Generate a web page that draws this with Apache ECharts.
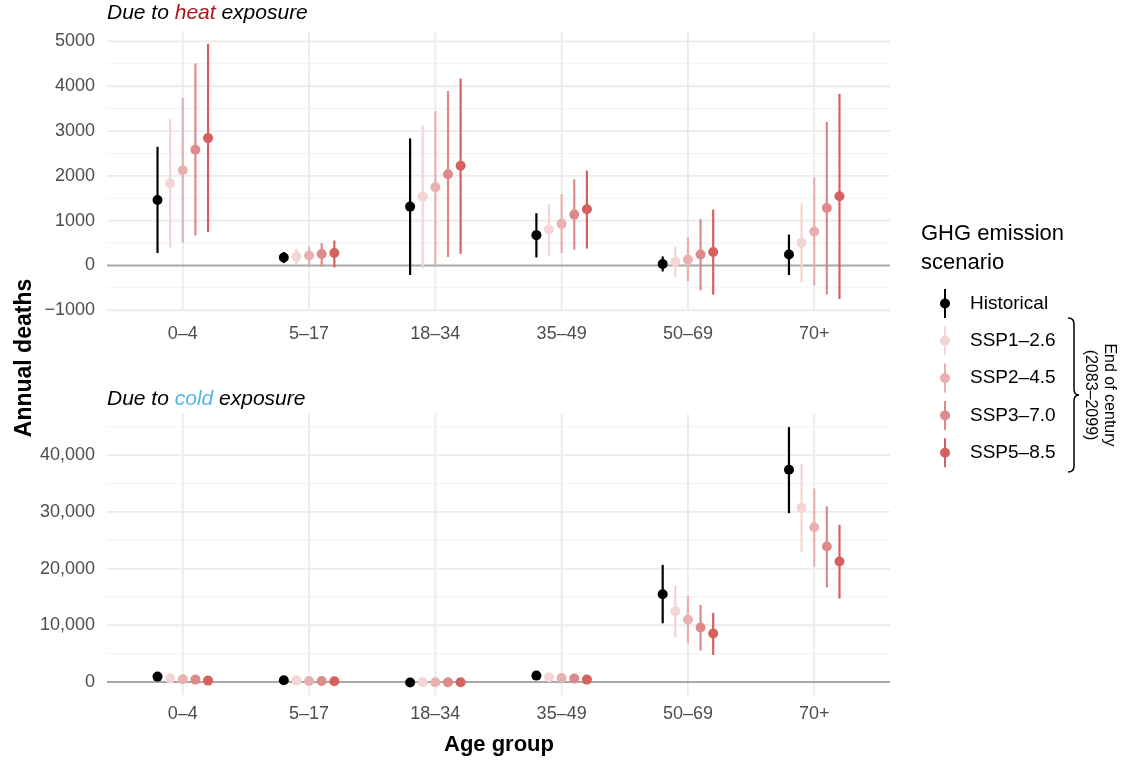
<!DOCTYPE html>
<html>
<head>
<meta charset="utf-8">
<script src="https://cdn.jsdelivr.net/npm/echarts@6/dist/echarts.min.js"></script>
<style>
  html, body { margin: 0; padding: 0; background: #ffffff; }
  #chart { width: 1127px; height: 761px; }
</style>
</head>
<body>
<div id="chart"></div>
<script>
// Age groups on the x axis and emission scenarios (dodged within each group)
const ageGroups = ['0–4', '5–17', '18–34', '35–49', '50–69', '70+'];
const scenarios = ['Historical', 'SSP1–2.6', 'SSP2–4.5', 'SSP3–7.0', 'SSP5–8.5'];
const scenarioColors = ['#000000', '#F3D5D5', '#E9B0B0', '#DF8A8A', '#D6605E'];

// Annual deaths due to heat: [estimate, lower, upper] per age group
const heatHistorical = [[1462, 276, 2648], [178, 53, 298], [1313, -214, 2835], [676, 178, 1166], [31, -134, 200], [245, -214, 690]];
const heatSSP126 = [[1834, 400, 3264], [194, 31, 372], [1535, -67, 3131], [801, 223, 1373], [82, -258, 423], [505, -371, 1388]];
const heatSSP245 = [[2123, 512, 3738], [223, 9, 423], [1745, 0, 3442], [928, 276, 1589], [134, -356, 632], [757, -452, 1958]];
const heatSSP370 = [[2581, 668, 4510], [254, -22, 498], [2034, 187, 3894], [1135, 349, 1923], [245, -556, 1039], [1284, -645, 3204]];
const heatSSP585 = [[2842, 743, 4949], [276, -45, 556], [2225, 260, 4170], [1255, 378, 2114], [298, -652, 1246], [1544, -748, 3827]];

// Annual deaths due to cold: [estimate, lower, upper] per age group
const coldHistorical = [[941, 760, 1130], [294, 200, 390], [-100, -180, -20], [1118, 900, 1340], [15471, 10353, 20647], [37412, 29765, 44941]];
const coldSSP126 = [[647, 480, 820], [235, 140, 330], [-50, -130, 30], [824, 630, 1020], [12471, 7882, 17000], [30706, 23000, 38412]];
const coldSSP245 = [[470, 300, 640], [176, 80, 270], [-50, -130, 30], [706, 510, 900], [11000, 6824, 15176], [27294, 20353, 34118]];
const coldSSP370 = [[412, 240, 590], [176, 80, 270], [-50, -130, 30], [588, 390, 790], [9588, 5529, 13588], [23882, 16647, 31000]];
const coldSSP585 = [[235, 60, 410], [118, 20, 210], [-50, -130, 30], [412, 210, 610], [8529, 4765, 12176], [21235, 14706, 27706]];

// Tick values of the two y axes
const heatTicks = [-1000, 0, 1000, 2000, 3000, 4000, 5000];
const heatMinorTicks = [-500, 500, 1500, 2500, 3500, 4500];
const coldTicks = [0, 10000, 20000, 30000, 40000];
const coldMinorTicks = [5000, 15000, 25000, 35000, 45000];

const heatSeriesData = [heatHistorical, heatSSP126, heatSSP245, heatSSP370, heatSSP585];
const coldSeriesData = [coldHistorical, coldSSP126, coldSSP245, coldSSP370, coldSSP585];

const FONT = '"Liberation Sans", Arial, Helvetica, sans-serif';
const DODGE = 0.1;

function fmtHeat(v) { return v < 0 ? '\u2212' + Math.abs(v) : String(v); }
function fmtCold(v) { return v.toLocaleString('en-US'); }

// Horizontal reference lines across a panel
function hLines(panel, values, style, z) {
  return {
    type: 'custom', xAxisIndex: panel, yAxisIndex: panel, silent: true, z: z,
    data: values.map(v => [1, v]),
    renderItem: function (params, api) {
      const cs = params.coordSys;
      const y = api.coord([1, api.value(1)])[1];
      return { type: 'line', shape: { x1: cs.x, y1: y, x2: cs.x + cs.width, y2: y }, style: style };
    }
  };
}
// Vertical lines at each age group
function vLines(panel, style, z) {
  return {
    type: 'custom', xAxisIndex: panel, yAxisIndex: panel, silent: true, z: z,
    data: ageGroups.map((g, i) => [i + 1, 0]),
    renderItem: function (params, api) {
      const cs = params.coordSys;
      const x = api.coord([api.value(0), 0])[0];
      return { type: 'line', shape: { x1: x, y1: cs.y, x2: x, y2: cs.y + cs.height }, style: style };
    }
  };
}
// Point + interval for one scenario in one panel
function rangeSeries(panel, sIdx, rows) {
  const color = scenarioColors[sIdx];
  const offset = (sIdx - 2) * DODGE;
  return {
    type: 'custom', name: scenarios[sIdx], xAxisIndex: panel, yAxisIndex: panel, z: 5,
    itemStyle: { color: color },
    encode: { x: 0, y: [1, 2, 3] },
    data: rows.map((r, i) => [i + 1 + offset, r[0], r[1], r[2]]),
    renderItem: function (params, api) {
      const x = api.value(0);
      const mid = api.coord([x, api.value(1)]);
      const lo = api.coord([x, api.value(2)]);
      const hi = api.coord([x, api.value(3)]);
      return {
        type: 'group',
        children: [
          { type: 'line', shape: { x1: lo[0], y1: lo[1], x2: hi[0], y2: hi[1] }, style: { stroke: color, lineWidth: 2.2 } },
          { type: 'circle', shape: { cx: mid[0], cy: mid[1], r: 5 }, style: { fill: color } }
        ]
      };
    }
  };
}

const majorStyle = { stroke: '#EBEBEB', lineWidth: 1.8 };
const minorStyle = { stroke: '#F1F1F1', lineWidth: 1 };
const zeroStyle = { stroke: '#A8A8A8', lineWidth: 2 };

function xAxisFor(panel, margin) {
  return {
    type: 'value', gridIndex: panel, min: 0.4, max: 6.6,
    axisLine: { show: false }, axisTick: { show: false }, splitLine: { show: false },
    axisLabel: {
      customValues: ageGroups.map((g, i) => i + 1),
      formatter: v => ageGroups[Math.round(v) - 1] || '',
      color: '#4D4D4D', fontSize: 18, fontFamily: FONT, margin: margin
    }
  };
}
function yAxisFor(panel, min, max, ticks, fmt) {
  return {
    type: 'value', gridIndex: panel, min: min, max: max,
    axisLine: { show: false }, axisTick: { show: false }, splitLine: { show: false },
    axisLabel: { customValues: ticks, formatter: fmt, color: '#4D4D4D', fontSize: 18, fontFamily: FONT, margin: 12 }
  };
}

const series = [
  hLines(0, heatMinorTicks, minorStyle, 1),
  hLines(0, heatTicks.filter(v => v !== 0), majorStyle, 1),
  vLines(0, majorStyle, 1),
  hLines(0, [0], zeroStyle, 2),
  hLines(1, coldMinorTicks, minorStyle, 1),
  hLines(1, coldTicks.filter(v => v !== 0), majorStyle, 1),
  vLines(1, majorStyle, 1),
  hLines(1, [0], zeroStyle, 2)
];
heatSeriesData.forEach((rows, s) => series.push(rangeSeries(0, s, rows)));
coldSeriesData.forEach((rows, s) => series.push(rangeSeries(1, s, rows)));

// Curly brace grouping the end-of-century scenarios in the legend
const braceStyle = { stroke: '#000000', lineWidth: 1.5, fill: null };
const braceParts = [
  { type: 'bezierCurve', shape: { x1: 1068, y1: 318, cpx1: 1074, cpy1: 318, x2: 1074, y2: 324 }, style: braceStyle },
  { type: 'line', shape: { x1: 1074, y1: 324, x2: 1074, y2: 389 }, style: braceStyle },
  { type: 'bezierCurve', shape: { x1: 1074, y1: 389, cpx1: 1074, cpy1: 395, x2: 1079, y2: 395 }, style: braceStyle },
  { type: 'bezierCurve', shape: { x1: 1079, y1: 395, cpx1: 1074, cpy1: 395, x2: 1074, y2: 401 }, style: braceStyle },
  { type: 'line', shape: { x1: 1074, y1: 401, x2: 1074, y2: 466 }, style: braceStyle },
  { type: 'bezierCurve', shape: { x1: 1074, y1: 466, cpx1: 1074, cpy1: 472, x2: 1068, y2: 472 }, style: braceStyle }
];

const chart = echarts.init(document.getElementById('chart'), null, { renderer: 'canvas' });
chart.setOption({
  backgroundColor: '#ffffff',
  animation: false,
  grid: [
    { left: 107, right: 237, top: 31, height: 280 },
    { left: 107, right: 237, top: 414, height: 281 }
  ],
  xAxis: [xAxisFor(0, 14), xAxisFor(1, 10)],
  yAxis: [
    yAxisFor(0, -1017, 5233, heatTicks, fmtHeat),
    yAxisFor(1, -2300, 47250, coldTicks, fmtCold)
  ],
  legend: {
    orient: 'vertical', left: 935, top: 284,
    itemWidth: 10, itemHeight: 29, itemGap: 8.3,
    data: scenarios,
    icon: 'path://M4,0h2v29h-2z M0,14.5a5,5 0 1,1 10,0a5,5 0 1,1 -10,0z',
    textStyle: { fontSize: 19, color: '#000000', fontFamily: FONT, padding: [0, 0, 0, 15] }
  },
  graphic: [
    {
      type: 'text', x: 107, y: 2.5,
      style: {
        text: 'Due to {h|heat} exposure', fontSize: 21, fontStyle: 'italic', fontFamily: FONT, fill: '#000000',
        rich: { h: { fontSize: 21, fontStyle: 'italic', fontFamily: FONT, fill: '#B2141B' } }
      }
    },
    {
      type: 'text', x: 107, y: 388.5,
      style: {
        text: 'Due to {c|cold} exposure', fontSize: 21, fontStyle: 'italic', fontFamily: FONT, fill: '#000000',
        rich: { c: { fontSize: 21, fontStyle: 'italic', fontFamily: FONT, fill: '#56B4E9' } }
      }
    },
    {
      type: 'text', x: 25, y: 358, rotation: Math.PI / 2,
      style: { text: 'Annual deaths', fontSize: 23, fontWeight: 'bold', fontFamily: FONT, fill: '#000000', align: 'center', verticalAlign: 'middle' }
    },
    {
      type: 'text', x: 499, y: 745,
      style: { text: 'Age group', fontSize: 22, fontWeight: 'bold', fontFamily: FONT, fill: '#000000', align: 'center', verticalAlign: 'middle' }
    },
    {
      type: 'text', x: 921, y: 219,
      style: { text: 'GHG emission\nscenario', fontSize: 22, lineHeight: 29, fontFamily: FONT, fill: '#000000' }
    },
    { type: 'group', children: braceParts },
    {
      type: 'text', x: 1100, y: 395, rotation: -Math.PI / 2,
      style: { text: 'End of century\n(2083–2099)', fontSize: 16, lineHeight: 19, fontFamily: FONT, fill: '#000000', align: 'center', verticalAlign: 'middle' }
    }
  ],
  series: series
});
</script>
</body>
</html>
